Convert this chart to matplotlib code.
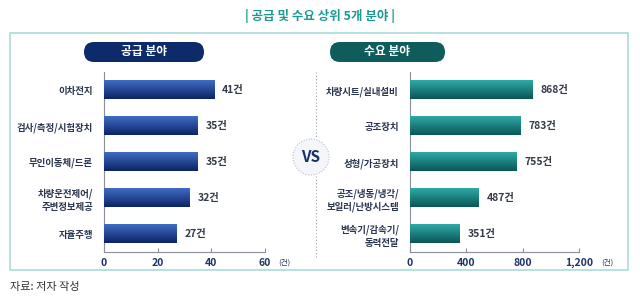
import numpy as np
import matplotlib
matplotlib.use("Agg")
import matplotlib.pyplot as plt
from matplotlib.patches import FancyBboxPatch, Rectangle, Circle
from matplotlib.colors import LinearSegmentedColormap

plt.rcParams['font.family'] = ['Noto Sans CJK KR', 'DejaVu Sans']

# 데이터
supply_labels = ['이차전지', '검사/측정/시험장치', '무인이동체/드론', '차량운전제어/\n주변정보제공', '자율주행']
supply_values = [41, 35, 35, 32, 27]
demand_labels = ['차량시트/실내설비', '공조장치', '성형/가공장치', '공조/냉동/냉각/\n보일러/난방시스템', '변속기/감속기/\n동력전달']
demand_values = [868, 783, 755, 487, 351]
supply_ticks = [0, 20, 40, 60]
demand_ticks = [0, 400, 800, 1200]
demand_ticklabels = ['0', '400', '800', '1,200']

W, H = 640, 308
fig = plt.figure(figsize=(W / 100, H / 100), dpi=100)

# 배경용 축 (픽셀 좌표)
bg = fig.add_axes([0, 0, 1, 1])
bg.set_xlim(0, W)
bg.set_ylim(H, 0)
bg.axis('off')

teal = '#1b9a95'
bg.text(320, 16, '| 공급 및 수요 상위 5개 분야 |', ha='center', va='center',
        fontsize=9, fontweight='bold', color=teal)
bg.add_patch(Rectangle((10, 33), 618, 237, fill=False, edgecolor='#a9dadd', lw=1.2))

# 헤더 알약
bg.add_patch(FancyBboxPatch((84, 42), 120, 20, boxstyle='round,pad=0,rounding_size=10',
                            facecolor='#0d2a6b', edgecolor='none'))
bg.text(144, 52, '공급 분야', ha='center', va='center', color='white', fontsize=8.5, fontweight='bold')
bg.add_patch(FancyBboxPatch((330, 42), 115, 20, boxstyle='round,pad=0,rounding_size=10',
                            facecolor='#0e5d5c', edgecolor='none'))
bg.text(387, 52, '수요 분야', ha='center', va='center', color='white', fontsize=8.5, fontweight='bold')

# VS
bg.plot([316, 316], [72, 138], ls=(0, (1, 2)), color='#9aa5b0', lw=0.8)
bg.plot([316, 316], [176, 258], ls=(0, (1, 2)), color='#9aa5b0', lw=0.8)
bg.add_patch(Circle((311, 157), 18, facecolor='#f4f6fa', edgecolor='#b8c0cc', lw=0.8, ls=(0, (1, 1.5))))
bg.text(311, 157, 'VS', ha='center', va='center', fontsize=11, fontweight='bold', color='#16306e')

bg.text(10, 287, '자료: 저자 작성', ha='left', va='center', fontsize=8, color='#333333')


def draw_panel(rect, labels, values, ticks, ticklabels, xmax, c_top, c_bot, unit_x, fmt):
    ax = fig.add_axes(rect)
    y = np.arange(len(values))
    bars = ax.barh(y, values, height=0.52, color=c_bot, zorder=2)
    cmap = LinearSegmentedColormap.from_list('g', [c_top, c_bot])
    grad = np.linspace(0, 1, 50).reshape(-1, 1)
    for b in bars:
        x0, y0 = b.get_x(), b.get_y()
        ax.imshow(grad, extent=(x0, x0 + b.get_width(), y0 + b.get_height(), y0),
                  cmap=cmap, aspect='auto', zorder=3, origin='upper')
    ax.set_xlim(0, xmax)
    ax.set_ylim(len(values) - 0.5, -0.5)
    ax.set_yticks(y)
    ax.set_yticklabels(labels, fontsize=6.8, fontweight='bold', color='#2a3550', linespacing=1.3)
    ax.set_xticks(ticks)
    ax.set_xticklabels(ticklabels, fontsize=7.5, fontweight='bold', color='#1e3466')
    ax.tick_params(axis='y', length=0, pad=8)
    ax.tick_params(axis='x', direction='in', length=3, color='#8a8f99', pad=4)
    for s in ['top', 'right']:
        ax.spines[s].set_visible(False)
    ax.spines['left'].set_color('#8a8f99')
    ax.spines['bottom'].set_color('#8a8f99')
    ax.spines['left'].set_linewidth(0.8)
    ax.spines['bottom'].set_linewidth(0.8)
    ax.patch.set_alpha(0)
    for yi, v in zip(y, values):
        ax.text(v + xmax * 0.05, yi, fmt(v), va='center', ha='left', fontsize=7.5,
                fontweight='bold', color='#333a48')
    ax.text(unit_x, -11 / 180, '(건)', transform=ax.transAxes, fontsize=5.5, color='#1e3466',
            ha='left', va='center')
    return ax


draw_panel([104 / W, 1 - 252 / H, 161 / W, 180 / H], supply_labels, supply_values,
           supply_ticks, [str(t) for t in supply_ticks], 60, '#3f6cc4', '#0c2466',
           (278 - 104) / 161, lambda v: f'{v}건')
draw_panel([410 / W, 1 - 252 / H, 169 / W, 180 / H], demand_labels, demand_values,
           demand_ticks, demand_ticklabels, 1200, '#2eaaa6', '#0b5657',
           (601 - 410) / 169, lambda v: f'{v}건')

fig.savefig('out.png', dpi=100)
